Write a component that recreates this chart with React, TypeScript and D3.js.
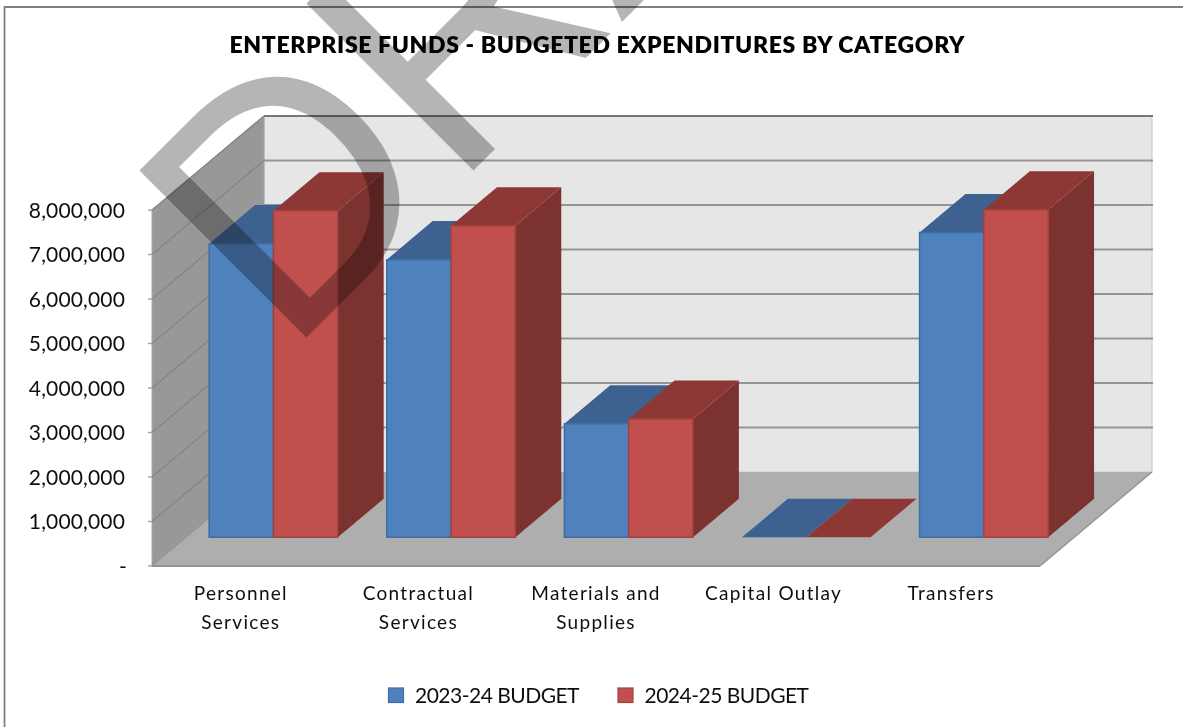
import React from "react";
import * as d3 from "d3";

const title = "ENTERPRISE FUNDS - BUDGETED EXPENDITURES BY CATEGORY";
const categories = ["Personnel Services", "Contractual Services", "Materials and Supplies", "Capital Outlay", "Transfers"];
const categoryLines = [["Personnel", "Services"], ["Contractual", "Services"], ["Materials and", "Supplies"], ["Capital Outlay"], ["Transfers"]];
const budget2324 = [6600000, 6240000, 2550000, 0, 6850000];
const budget2425 = [7340000, 7000000, 2660000, 0, 7360000];
const yTicks = [0, 1000000, 2000000, 3000000, 4000000, 5000000, 6000000, 7000000, 8000000];
const seriesNames = ["2023-24 BUDGET", "2024-25 BUDGET"];

const FONT = "Lato, 'Noto Sans', sans-serif";
const palette = [
  { front: "#4F81BD", top: "#3C6291", side: "#37587F", edge: "#3E6DA5" },
  { front: "#C0504D", top: "#8E3836", side: "#7C302E", edge: "#A04340" },
];

const x0 = d3.scaleBand<string>().domain(categories).range([150.5, 1038.5]).paddingInner(0.276).paddingOuter(0.138);
const x1 = d3.scaleBand<string>().domain(seriesNames).range([0, x0.bandwidth()]);
const h = d3.scaleLinear().domain([0, 8000000]).range([0, 356]);
const depthX = d3.scaleLinear().domain([0, 1]).range([0, 112]);
const depthY = d3.scaleLinear().domain([0, 1]).range([0, 94]);
const Y0 = 566;
const X_L = 152;
const X_R = 1040;
const D_FRONT = 0.305;
const D_BACK = 0.715;

const pt = (x: number, v: number, d: number): [number, number] => [x + depthX(d), Y0 - h(v) - depthY(d)];
const poly = (pts: [number, number][]) => pts.map((p) => p.join(",")).join(" ");
const fmt = (v: number) => (v === 0 ? "-" : d3.format(",")(v));

function Bar({ x, w, v, c }: { x: number; w: number; v: number; c: (typeof palette)[number] }) {
  const r = x + w;
  return (
    <g>
      {v > 0 && (
        <polygon points={poly([pt(r, 0, D_FRONT), pt(r, 0, D_BACK), pt(r, v, D_BACK), pt(r, v, D_FRONT)])} fill={c.side} />
      )}
      <polygon points={poly([pt(x, v, D_FRONT), pt(r, v, D_FRONT), pt(r, v, D_BACK), pt(x, v, D_BACK)])} fill={c.top} />
      {v > 0 && (
        <polygon points={poly([pt(x, 0, D_FRONT), pt(r, 0, D_FRONT), pt(r, v, D_FRONT), pt(x, v, D_FRONT)])} fill={c.front} stroke={c.edge} strokeWidth={1.5} />
      )}
    </g>
  );
}

export default function App() {
  return (
    <svg width={1183} height={727} style={{ position: "absolute", left: 0, top: 0, background: "#fff" }} fontFamily={FONT}>
      <defs>
        <filter id="soft" x="-2%" y="-2%" width="104%" height="104%">
          <feGaussianBlur stdDeviation="0.6" />
        </filter>
        <clipPath id="page"><rect x={0} y={0} width={1183} height={727} /></clipPath>
      </defs>
      <g filter="url(#soft)">
        <path d="M4.5,727V7H1183" fill="none" stroke="#808080" strokeWidth={1.8} />
        <text x={597} y={53} textAnchor="middle" fontSize={23} fontWeight={800} fill="#000" textLength={735} lengthAdjust="spacing">{title}</text>

        {/* walls and floor */}
        <polygon points={poly([pt(X_L, 0, 1), pt(X_R, 0, 1), pt(X_R, 8000000, 1), pt(X_L, 8000000, 1)])} fill="#E6E6E6" stroke="#CCCCCC" strokeWidth={1.2} />
        <polygon points={poly([pt(X_L, 0, 0), pt(X_L, 0, 1), pt(X_L, 8000000, 1), pt(X_L, 8000000, 0)])} fill="#989898" stroke="#A6A6A6" strokeWidth={1} />
        <polygon points={poly([pt(X_L, 0, 0), pt(X_R, 0, 0), pt(X_R, 0, 1), pt(X_L, 0, 1)])} fill="#AEAEAE" />
        {yTicks.map((t) => (
          <g key={t} fill="none" stroke={t === 8000000 ? "#777777" : "#959595"} strokeWidth={2}>
            {t > 0 && <line x1={pt(X_L, t, 1)[0]} y1={pt(X_L, t, 1)[1]} x2={pt(X_R, t, 1)[0] + 1} y2={pt(X_R, t, 1)[1]} />}
            {t > 0 && <line x1={pt(X_L, t, 0)[0]} y1={pt(X_L, t, 0)[1]} x2={pt(X_L, t, 1)[0]} y2={pt(X_L, t, 1)[1]} stroke="#868686" strokeWidth={1.4} />}
            <line x1={X_L - 4} y1={pt(X_L, t, 0)[1]} x2={X_L} y2={pt(X_L, t, 0)[1]} stroke="#A0A0A0" strokeWidth={1.4} />
          </g>
        ))}
        <line x1={X_L} y1={Y0} x2={X_R} y2={Y0} stroke="#949494" strokeWidth={2.2} />
        <line x1={X_R} y1={Y0} x2={pt(X_R, 0, 1)[0]} y2={pt(X_R, 0, 1)[1]} stroke="#949494" strokeWidth={1.4} />
        <line x1={X_L} y1={Y0} x2={pt(X_L, 0, 1)[0]} y2={pt(X_L, 0, 1)[1]} stroke="#8E8E8E" strokeWidth={1} />

        {/* bars */}
        {categories.map((cat, i) => (
          <g key={cat}>
            {[budget2324[i], budget2425[i]].map((v, s) => (
              <Bar key={s} x={x0(cat)! + x1(seriesNames[s])!} w={x1.bandwidth()} v={v} c={palette[s]} />
            ))}
          </g>
        ))}

        {/* y axis labels */}
        {yTicks.map((t) => (
          <text key={t} x={t === 0 ? 127 : 125} y={pt(X_L, t, 0)[1] + 7.5} textAnchor="end" fontSize={21} letterSpacing={0.15} fill="#111">{fmt(t)}</text>
        ))}

        {/* category labels */}
        {categories.map((cat, i) => (
          <g key={cat}>
            {categoryLines[i].map((line, k) => (
              <text key={k} x={x0(cat)! + x0.bandwidth() / 2 + 1.5} y={600 + k * 29} textAnchor="middle" fontSize={19} letterSpacing={1.3} fill="#111">{line}</text>
            ))}
          </g>
        ))}

        {/* legend */}
        {seriesNames.map((name, s) => {
          const lx = [388.5, 618][s];
          return (
            <g key={name}>
              <rect x={lx} y={688} width={15} height={14.5} fill={palette[s].front} stroke={palette[s].edge} strokeWidth={1.2} />
              <text x={lx + 26.5} y={702.5} fontSize={21} fill="#111" textLength={164.5} lengthAdjust="spacing">{name}</text>
            </g>
          );
        })}
      </g>

      {/* watermark */}
      <g clipPath="url(#page)">
        <text transform="translate(287.5,356.5) rotate(-45) scale(1,1.05)" fontFamily="'Liberation Sans', Arial, sans-serif" fontSize={327} fill="#000" fillOpacity={0.29}>DRAFT</text>
      </g>
    </svg>
  );
}
